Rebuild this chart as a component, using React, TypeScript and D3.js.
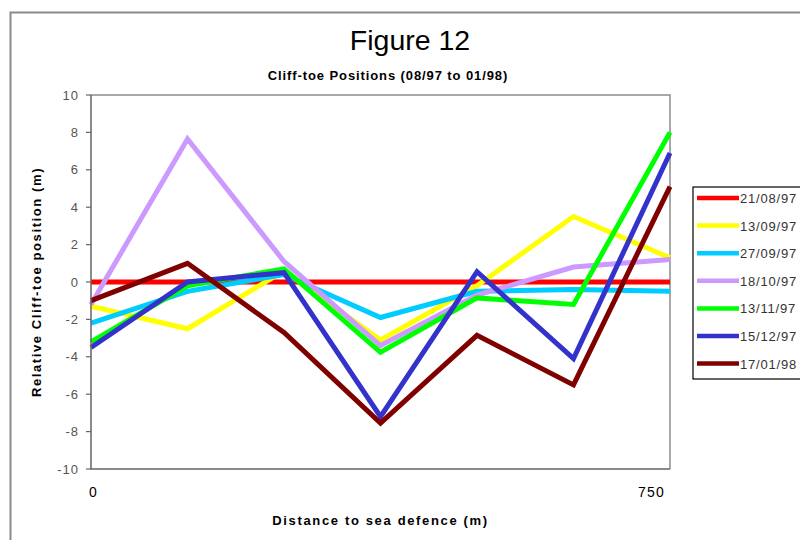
import React from "react";
import * as d3 from "d3";

const distances = [0, 125, 250, 375, 500, 625, 750];
const seriesNames = ["21/08/97", "13/09/97", "27/09/97", "18/10/97", "13/11/97", "15/12/97", "17/01/98"];
const seriesColors = ["#ff0000", "#ffff00", "#00ccff", "#cc99ff", "#00ff00", "#3333cc", "#800000"];
const s21Aug97 = [0, 0, 0, 0, 0, 0, 0];
const s13Sep97 = [-1.3, -2.5, 0.6, -3.1, -0.2, 3.5, 1.3];
const s27Sep97 = [-2.2, -0.5, 0.4, -1.9, -0.5, -0.4, -0.5];
const s18Oct97 = [-1.2, 7.65, 1.1, -3.4, -0.7, 0.8, 1.2];
const s13Nov97 = [-3.2, -0.2, 0.7, -3.75, -0.85, -1.2, 8.0];
const s15Dec97 = [-3.5, 0.0, 0.5, -7.2, 0.55, -4.1, 6.9];
const s17Jan98 = [-1.0, 1.0, -2.7, -7.55, -2.85, -5.5, 5.1];
const seriesValues = [s21Aug97, s13Sep97, s27Sep97, s18Oct97, s13Nov97, s15Dec97, s17Jan98];
const yTicks = [-10, -8, -6, -4, -2, 0, 2, 4, 6, 8, 10];
const xTickLabels = [0, 750];

const W = 800;
const H = 540;
const plot = { left: 91, top: 95, right: 670, bottom: 469 };
const font = "'Liberation Sans', Arial, sans-serif";

export default function App() {
  const x = d3.scaleLinear().domain([0, 750]).range([plot.left, plot.right]);
  const y = d3.scaleLinear().domain([-10, 10]).range([plot.bottom, plot.top]);
  const line = d3
    .line<number>()
    .x((_, i) => x(distances[i]))
    .y((v) => y(v));

  const legendX = 693;
  const legendTop = 187;
  const legendRow = 27.6;

  return (
    <svg
      width={W}
      height={H}
      style={{ position: "absolute", left: 0, top: 0, background: "#fff" }}
      fontFamily={font}
    >
      <rect x={0} y={0} width={W} height={H} fill="#fff" />
      {/* outer frame */}
      <path d={`M10.5,${H} V12.5 H${W}`} fill="none" stroke="#8a8a8a" strokeWidth={2} />

      {/* titles */}
      <text x={410} y={50} textAnchor="middle" fontSize={28.5} fill="#000">
        Figure 12
      </text>
      <text x={388} y={80} textAnchor="middle" fontSize={13} fontWeight="bold" fill="#000" letterSpacing={0.9}>
        Cliff-toe Positions (08/97 to 01/98)
      </text>

      {/* plot frame */}
      <path
        d={`M${plot.left},${plot.top} H${plot.right} V${plot.bottom}`}
        fill="none"
        stroke="#8c8c8c"
        strokeWidth={1.5}
      />

      {/* series */}
      {seriesValues.map((vals, i) => (
        <path
          key={seriesNames[i]}
          d={line(vals) || ""}
          fill="none"
          stroke={seriesColors[i]}
          strokeWidth={5}
          strokeLinejoin="miter"
        />
      ))}

      {/* axes */}
      <path
        d={`M${plot.left},${plot.top} V${plot.bottom} H${plot.right}`}
        fill="none"
        stroke="#666"
        strokeWidth={1.5}
      />
      {yTicks.map((t) => (
        <g key={t}>
          <line x1={plot.left - 5} x2={plot.left} y1={y(t)} y2={y(t)} stroke="#666" strokeWidth={1.2} />
          <text x={plot.left - 12} y={y(t) + 4.5} textAnchor="end" fontSize={13} fill="#555" letterSpacing={1}>
            {t}
          </text>
        </g>
      ))}
      {xTickLabels.map((t, i) => (
        <text
          key={t}
          x={i === 0 ? x(t) - 2 : x(t) - 5}
          y={497}
          textAnchor={i === 0 ? "start" : "end"}
          fontSize={14}
          fill="#000"
          letterSpacing={1.2}
        >
          {t}
        </text>
      ))}
      <text
        x={(plot.left + plot.right) / 2}
        y={525}
        textAnchor="middle"
        fontSize={13}
        fontWeight="bold"
        fill="#000"
        letterSpacing={1.65}
      >
        Distance to sea defence (m)
      </text>
      <text
        transform={`translate(41,${(plot.top + plot.bottom) / 2}) rotate(-90)`}
        textAnchor="middle"
        fontSize={13}
        fontWeight="bold"
        fill="#000"
        letterSpacing={1.6}
      >
        Relative Cliff-toe position (m)
      </text>

      {/* legend */}
      <rect x={legendX} y={legendTop} width={W - legendX + 5} height={192} fill="#fff" stroke="#000" strokeWidth={1.2} />
      {seriesNames.map((name, i) => {
        const ry = legendTop + 11 + i * legendRow;
        return (
          <g key={name}>
            <line x1={697} x2={739} y1={ry} y2={ry} stroke={seriesColors[i]} strokeWidth={4.5} />
            <text x={740} y={ry + 5} fontSize={13} fill="#333" letterSpacing={0.8}>
              {name}
            </text>
          </g>
        );
      })}
    </svg>
  );
}
